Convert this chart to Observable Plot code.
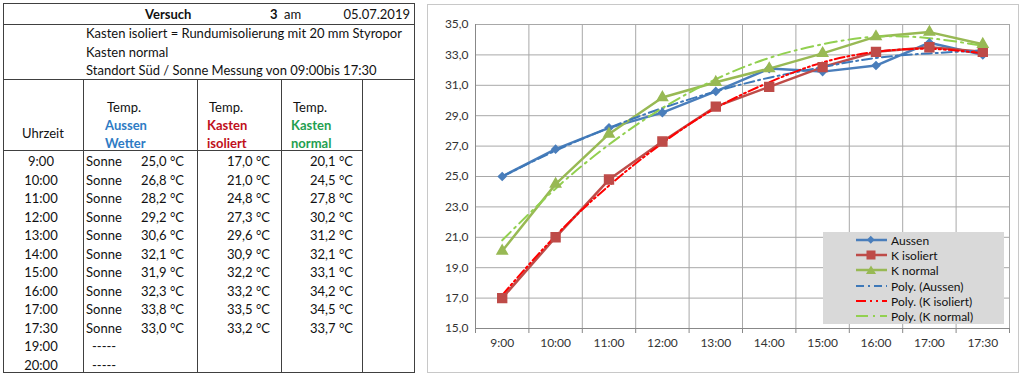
<!DOCTYPE html>
<html><head><meta charset="utf-8">
<script src="https://cdn.jsdelivr.net/npm/d3@7"></script>
<script src="https://cdn.jsdelivr.net/npm/@observablehq/plot@0.6"></script>
<style>
body{margin:0;background:#fff;font-family:Lato,"Open Sans",sans-serif;}
#wrap{position:relative;width:1024px;height:378px;overflow:hidden;background:#fff;}
.t{position:absolute;white-space:nowrap;line-height:16px;height:16px;font-size:13px;color:#111;}
.ln{position:absolute;background:#404040;}
#frame{position:absolute;left:427px;top:4px;width:590px;height:367px;border:1px solid #c8c8c8;}
#chart{position:absolute;left:428px;top:5px;}
#legend{position:absolute;left:823px;top:232px;width:181px;height:92px;background:#d9d9d9;}
#legend .row{position:absolute;left:0;width:181px;height:15px;line-height:15px;font-size:12px;color:#111;white-space:nowrap;}
</style>
</head><body>
<div id="wrap"></div>
<script>
// ---------- data ----------
const times = ["9:00","10:00","11:00","12:00","13:00","14:00","15:00","16:00","17:00","17:30"];
const tableTimes = ["9:00","10:00","11:00","12:00","13:00","14:00","15:00","16:00","17:00","17:30","19:00","20:00"];
const weather = ["Sonne","Sonne","Sonne","Sonne","Sonne","Sonne","Sonne","Sonne","Sonne","Sonne","-----","-----"];
const aussen   = [25.0,26.8,28.2,29.2,30.6,32.1,31.9,32.3,33.8,33.0];
const isoliert = [17.0,21.0,24.8,27.3,29.6,30.9,32.2,33.2,33.5,33.2];
const normal   = [20.1,24.5,27.8,30.2,31.2,32.1,33.1,34.2,34.5,33.7];
// trend lines (values at each time)
const polyAussen   = [25.0,26.7,28.2,29.5,30.6,31.5,32.2,32.8,33.1,33.3];
const polyIsoliert = [17.2,21.1,24.4,27.2,29.5,31.2,32.5,33.2,33.4,33.1];
const polyNormal   = [20.8,24.2,27.1,29.5,31.4,32.8,33.7,34.2,34.1,33.6];
const yTicks = [15,17,19,21,23,25,27,29,31,33,35];
const seriesNames = ["Aussen","K isoliert","K normal","Poly. (Aussen)","Poly. (K isoliert)","Poly. (K normal)"];
const titleRow = {versuch:"Versuch", nr:"3", am:"am", date:"05.07.2019"};
const infoLines = ["Kasten isoliert = Rundumisolierung mit 20 mm Styropor","Kasten normal","Standort Süd / Sonne Messung von 09:00bis 17:30"];
const headers = [["Temp.","Aussen","Wetter"],["Temp.","Kasten","isoliert"],["Temp.","Kasten","normal"]];
const headerColors = ["#2E7BC4","#C0101B","#1FA050"];

const fmt = v => v.toFixed(1).replace(".", ",");
const wrap = document.getElementById("wrap");

// ---------- table ----------
function txt(s, o) {
  const d = document.createElement("div");
  d.className = "t";
  d.textContent = s;
  d.style.top = (o.cy - 8) + "px";
  if (o.left != null) d.style.left = o.left + "px";
  if (o.right != null) { d.style.left = (o.right - 200) + "px"; d.style.width = "200px"; d.style.textAlign = "right"; }
  if (o.cx != null) { d.style.left = (o.cx - 50) + "px"; d.style.width = "100px"; d.style.textAlign = "center"; }
  if (o.bold) d.style.fontWeight = "bold";
  if (o.color) d.style.color = o.color;
  wrap.appendChild(d);
}
function line(x, y, w, h) {
  const d = document.createElement("div");
  d.className = "ln";
  Object.assign(d.style, {left: x + "px", top: y + "px", width: w + "px", height: h + "px"});
  wrap.appendChild(d);
}
// borders
line(3, 3, 412, 1); line(3, 372, 412, 1); line(3, 3, 1, 370); line(414, 3, 1, 370);
line(3, 24, 412, 1); line(3, 79, 412, 1); line(3, 150, 360, 1);
[83, 197, 281, 362].forEach(x => line(x, 79, 1, 294));

txt(titleRow.versuch, {left: 145, cy: 14, bold: true});
txt(titleRow.nr, {left: 270, cy: 14, bold: true});
txt(titleRow.am, {left: 284, cy: 14});
txt(titleRow.date, {right: 410, cy: 14});
infoLines.forEach((s, i) => txt(s, {left: 86, cy: 33 + i * 18.5}));
txt("Uhrzeit", {left: 22, cy: 133});
const hx = [105, 207, 291];
headers.forEach((h, c) => {
  txt(h[0], {left: hx[c] + 2, cy: 107});
  txt(h[1], {left: hx[c], cy: 125, bold: true, color: headerColors[c]});
  txt(h[2], {left: hx[c], cy: 143, bold: true, color: headerColors[c]});
});
tableTimes.forEach((t, i) => {
  const cy = 161 + i * 18.5;
  txt(t, {cx: 41, cy});
  txt(weather[i], {left: weather[i] === "Sonne" ? 86 : 92, cy});
  if (i < aussen.length) {
    txt(fmt(aussen[i]) + " °C", {right: 184, cy});
    txt(fmt(isoliert[i]) + " °C", {right: 270, cy});
    txt(fmt(normal[i]) + " °C", {right: 353, cy});
  }
});

// ---------- chart ----------
const frame = document.createElement("div"); frame.id = "frame"; wrap.appendChild(frame);

const idx = times.map((_, i) => i + 1);
const bounds = d3.range(0.5, times.length + 1, 1);
const mk = (arr) => arr.map((v, i) => ({x: i + 1, y: v}));
const colors = {a: "#4A7EBB", i: "#BE4B48", n: "#98B954", pa: "#3E78B8", pi: "#FF0000", pn: "#92D050"};

const chart = Plot.plot({
  width: 590, height: 367,
  marginLeft: 47, marginRight: 9, marginTop: 19, marginBottom: 44,
  x: {type: "linear", domain: [0.5, times.length + 0.5], axis: null, label: null},
  y: {domain: [15, 35], axis: null, label: null},
  style: {fontFamily: "Lato, sans-serif", fontSize: "12px", color: "#333", background: "transparent", overflow: "visible"},
  marks: [
    Plot.ruleY(yTicks, {stroke: "#a8a8a8", strokeWidth: 1}),
    Plot.ruleX(bounds, {y1: 15, y2: 35, stroke: "#a8a8a8", strokeWidth: 1}),
    Plot.axisX(bounds, {tickSize: 5, tickFormat: () => "", stroke: "#888", label: null}),
    Plot.ruleY([15], {stroke: "#888"}),
    Plot.ruleX([0.5], {y1: 15, y2: 35, stroke: "#888"}),
    Plot.axisY(yTicks, {tickSize: 0, tickPadding: 7, tickFormat: fmt, fill: "#333", label: null}),
    Plot.axisX(idx, {tickSize: 0, tickPadding: 10, tickFormat: i => times[i - 1], fill: "#333", label: null}),
    Plot.line(mk(aussen), {x: "x", y: "y", stroke: colors.a, strokeWidth: 2.5}),
    Plot.line(mk(isoliert), {x: "x", y: "y", stroke: colors.i, strokeWidth: 2.5}),
    Plot.line(mk(normal), {x: "x", y: "y", stroke: colors.n, strokeWidth: 2.5}),
    Plot.line(mk(polyAussen), {x: "x", y: "y", stroke: colors.pa, strokeWidth: 2, strokeDasharray: "10,4,2,4", curve: "natural"}),
    Plot.line(mk(polyIsoliert), {x: "x", y: "y", stroke: colors.pi, strokeWidth: 2, strokeDasharray: "10,3,2,3,2,3", curve: "natural"}),
    Plot.line(mk(polyNormal), {x: "x", y: "y", stroke: colors.pn, strokeWidth: 2, strokeDasharray: "12,5,2,5", curve: "natural"}),
    Plot.dot(mk(aussen), {x: "x", y: "y", symbol: "square", r: 3, rotate: 45, fill: colors.a, stroke: colors.a}),
    Plot.dot(mk(isoliert), {x: "x", y: "y", symbol: "square", r: 5, fill: colors.i, stroke: colors.i}),
    Plot.dot(mk(normal), {x: "x", y: "y", symbol: "triangle", r: 3.8, fill: colors.n, stroke: colors.n})
  ]
});
chart.id = "chart";
chart.style.position = "absolute";
wrap.appendChild(chart);

// ---------- legend ----------
const legend = document.createElement("div"); legend.id = "legend"; wrap.appendChild(legend);
const legStyles = [
  {c: colors.a, w: 2.5, dash: null, sym: "diamond"},
  {c: colors.i, w: 2.5, dash: null, sym: "square"},
  {c: colors.n, w: 2.5, dash: null, sym: "triangle"},
  {c: colors.pa, w: 2, dash: "8,4,2,4", sym: null},
  {c: colors.pi, w: 2, dash: "10,4,2,4,2,4", sym: null},
  {c: colors.pn, w: 2, dash: "12,5,2,5", sym: null}
];
seriesNames.forEach((name, k) => {
  const s = legStyles[k];
  const row = document.createElement("div");
  row.className = "row";
  row.style.top = (1 + k * 15.2) + "px";
  let symSvg = "";
  if (s.sym === "diamond") symSvg = `<rect x="12" y="4" width="5.5" height="5.5" fill="${s.c}" transform="rotate(45 14.75 6.75)"/>`;
  if (s.sym === "square") symSvg = `<rect x="10.5" y="2.5" width="9" height="9" fill="${s.c}"/>`;
  if (s.sym === "triangle") symSvg = `<path d="M15,2.5 L20,11 L10,11 Z" fill="${s.c}"/>`;
  row.innerHTML = `<svg width="32" height="14" style="position:absolute;left:33px;top:0px"><line x1="0" x2="31" y1="7" y2="7" stroke="${s.c}" stroke-width="${s.w}" ${s.dash ? `stroke-dasharray="${s.dash}"` : ""}/>${symSvg}</svg><span style="position:absolute;left:68px;top:0;white-space:nowrap">${name}</span>`;
  legend.appendChild(row);
});
</script>
</body></html>
